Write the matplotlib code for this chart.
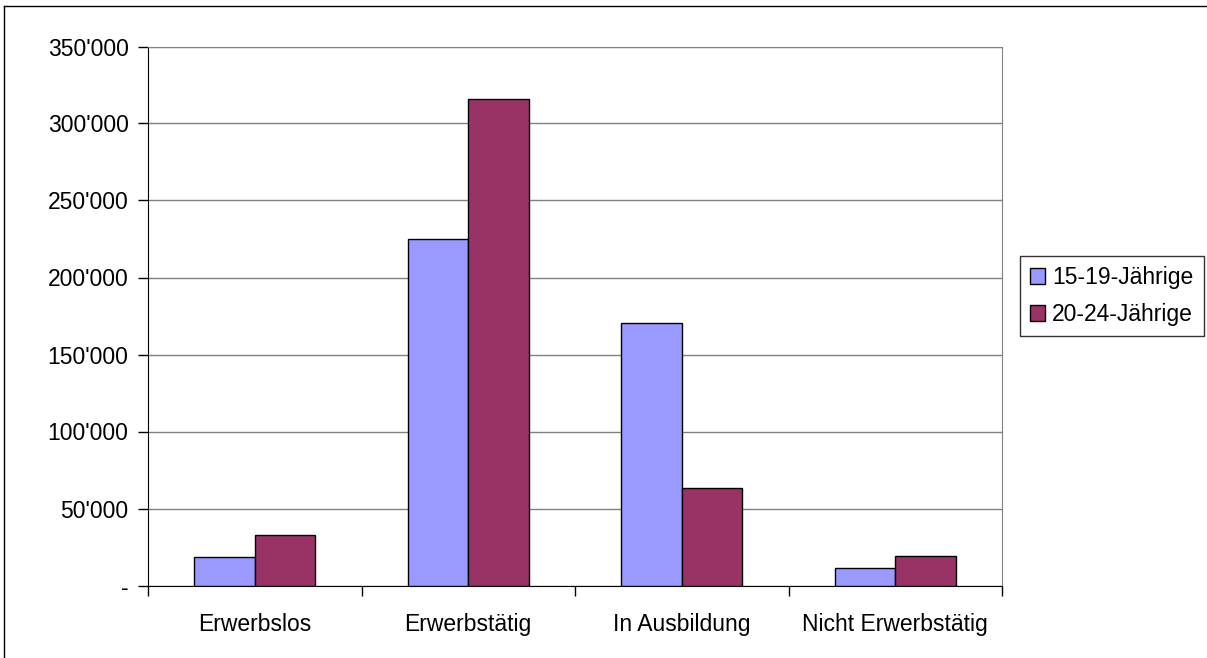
import numpy as np
import matplotlib.pyplot as plt
from matplotlib.lines import Line2D
from matplotlib.ticker import FuncFormatter

plt.rcParams['font.family'] = ['Liberation Sans', 'DejaVu Sans']

# data
categories = ["Erwerbslos", "Erwerbstätig", "In Ausbildung", "Nicht Erwerbstätig"]
series_names = ["15-19-Jährige", "20-24-Jährige"]
age_15_19 = [18300, 225000, 170400, 11100]
age_20_24 = [33000, 315800, 63300, 19300]
colors = ["#9999FF", "#993366"]

FS = 16.5


def swiss_fmt(v, pos):
    if v == 0:
        return "-"
    return f"{int(v):,}".replace(",", "'")


fig = plt.figure(figsize=(12.07, 6.58), dpi=100)
ax = fig.add_axes([148 / 1207, 72.5 / 658, 854 / 1207, 539 / 658])

x = np.arange(len(categories))
w = 0.284
ax.bar(x - w / 2, age_15_19, w, color=colors[0], edgecolor="black",
       linewidth=1, label=series_names[0], zorder=3)
ax.bar(x + w / 2, age_20_24, w, color=colors[1], edgecolor="black",
       linewidth=1, label=series_names[1], zorder=3)

ax.set_xlim(-0.5, len(categories) - 0.5)
ax.set_ylim(0, 350000)
ax.set_yticks(np.arange(0, 350001, 50000))
ax.yaxis.set_major_formatter(FuncFormatter(swiss_fmt))
ax.grid(axis="y", color="#808080", linewidth=1, zorder=0)

# category labels centred, ticks between categories
ax.set_xticks(np.arange(-0.5, len(categories), 1))
ax.set_xticklabels([])
ax.set_xticks(x, minor=True)
ax.set_xticklabels(categories, minor=True, fontsize=FS)
ax.tick_params(axis="x", which="minor", length=0, pad=20)
ax.tick_params(axis="x", which="major", length=7, direction="out", width=1)
ax.tick_params(axis="y", length=7, direction="out", width=1, labelsize=FS, pad=7)

for side in ["left", "bottom"]:
    ax.spines[side].set_color("black")
ax.spines["right"].set_color("#808080")
ax.spines["top"].set_color("#808080")

leg = ax.legend(loc="center left", bbox_to_anchor=(1.021, 0.537), fontsize=FS,
                frameon=True, fancybox=False, edgecolor="black",
                handlelength=0.65, handleheight=0.65, handletextpad=0.3,
                borderpad=0.45, labelspacing=0.6, borderaxespad=0)
leg.get_frame().set_linewidth(1)

# outer chart frame (top and left visible)
fig.add_artist(Line2D([4 / 1207, 1], [1 - 6 / 658, 1 - 6 / 658], color="black", lw=1))
fig.add_artist(Line2D([4 / 1207, 4 / 1207], [0, 1 - 6 / 658], color="black", lw=1))

fig.savefig("out.png", dpi=100)
